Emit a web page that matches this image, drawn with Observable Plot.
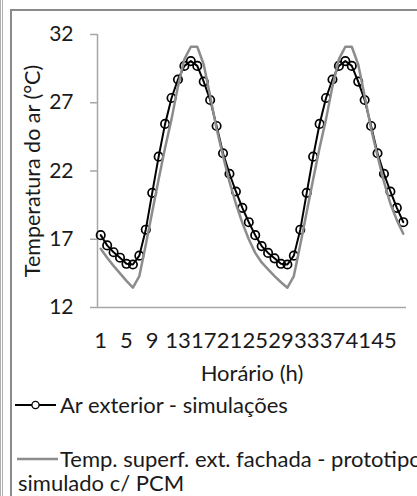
<!DOCTYPE html>
<html>
<head>
<meta charset="utf-8">
<script src="https://cdn.jsdelivr.net/npm/d3@7"></script>
<script src="https://cdn.jsdelivr.net/npm/@observablehq/plot@0.6"></script>
<style>
  html, body { margin: 0; padding: 0; background: #fff; }
  #wrap { position: relative; width: 417px; height: 496px; overflow: hidden; font-family: Lato, "Open Sans", sans-serif; color: #1a1a1a; }
  .bline { position: absolute; background: #8a8a8a; }
  #chart { position: absolute; left: 0; top: 0; }
  .leg { position: absolute; white-space: nowrap; font-size: 22px; line-height: 1; }
  .leg svg { position: absolute; overflow: visible; }
</style>
</head>
<body>
<div id="wrap">
  <div class="bline" style="left:0;top:0;width:1px;height:496px;background:#b0b0b0"></div>
  <div class="bline" style="left:2px;top:0;width:1px;height:496px;background:#b0b0b0"></div>
  <div class="bline" style="left:10px;top:9px;width:2px;height:487px"></div>
  <div class="bline" style="left:10px;top:9px;width:407px;height:2px"></div>
  <div id="chart"></div>
  <div id="legend"></div>
</div>
<script>
const hours = [1,2,3,4,5,6,7,8,9,10,11,12,13,14,15,16,17,18,19,20,21,22,23,24,
               25,26,27,28,29,30,31,32,33,34,35,36,37,38,39,40,41,42,43,44,45,46,47,48];
const arExterior = [17.3,16.55,16.05,15.65,15.2,15.15,15.8,17.7,20.4,23.05,25.45,27.35,28.7,29.7,30.05,29.7,28.55,27.2,25.3,23.3,21.8,20.5,19.3,18.25,
                    17.3,16.5,16.0,15.6,15.2,15.15,15.8,17.7,20.4,23.05,25.45,27.35,28.7,29.7,30.05,29.7,28.55,27.2,25.3,23.3,21.8,20.5,19.3,18.25];
const superfPCM = [16.3,15.65,15.05,14.5,13.95,13.45,14.3,16.6,19.0,21.4,23.7,25.8,28.2,30.2,31.1,31.1,29.8,27.5,25.1,23.1,21.2,19.6,18.2,17.0,
                   16.0,15.3,14.8,14.3,13.85,13.45,14.3,16.6,19.0,21.4,23.7,25.8,28.2,30.2,31.1,31.1,29.8,27.5,25.1,23.1,21.2,19.6,18.4,17.4];
const xTicks = [1,5,9,13,17,21,25,29,33,37,41,45];
const yTicks = [12,17,22,27,32];
const yTitle = "Temperatura do ar (°C)";
const xTitle = "Horário (h)";
const seriesNames = ["Ar exterior - simulações", "Temp. superf. ext. fachada - prototipo", "simulado c/ PCM"];

const rows = hours.map((h, i) => ({h, ar: arExterior[i], pcm: superfPCM[i]}));
const axisColor = "#a6a6a6";
const textColor = "#1a1a1a";

const chart = Plot.plot({
  width: 417,
  height: 390,
  marginLeft: 97,
  marginRight: 11,
  marginTop: 34,
  marginBottom: 83,
  style: {fontFamily: "Lato, 'Open Sans', sans-serif", fontSize: "21px", color: textColor, background: "transparent", overflow: "visible"},
  x: {domain: [0.5, 48.5]},
  y: {domain: [12, 32]},
  marks: [
    Plot.ruleY([12], {stroke: axisColor, strokeWidth: 1.5}),
    Plot.ruleX([0.5], {y1: 12, y2: 32, stroke: axisColor, strokeWidth: 1.5}),
    Plot.axisY(yTicks, {anchor: "left", tickSize: 7, tickPadding: 17, stroke: axisColor, strokeWidth: 1.5, label: null, fontSize: 21, fill: textColor}),
    Plot.axisX(xTicks, {anchor: "bottom", tickSize: 0, tickPadding: 25, label: null, fontSize: 22, fill: textColor}),
    Plot.line(rows, {x: "h", y: "ar", stroke: "#000", strokeWidth: 2}),
    Plot.dot(rows, {x: "h", y: "ar", r: 4.2, stroke: "#000", strokeWidth: 1.7, fill: "none"}),
    Plot.line(rows, {x: "h", y: "pcm", stroke: "#8c8c8c", strokeWidth: 2.5}),
    Plot.text([yTitle], {frameAnchor: "left", text: d => d, rotate: -90, dx: -64, fontSize: 21.5, fill: textColor, textAnchor: "middle", lineAnchor: "middle"}),
    Plot.text([xTitle], {frameAnchor: "bottom", text: d => d, dy: 66, fontSize: 22, fill: textColor, textAnchor: "middle", lineAnchor: "middle"})
  ]
});
document.getElementById("chart").appendChild(chart);

const legend = document.getElementById("legend");
legend.innerHTML = `
  <svg style="left:0;top:0" width="417" height="496">
    <line x1="15" x2="56" y1="405" y2="405" stroke="#000" stroke-width="2.2"></line>
    <circle cx="35.5" cy="405" r="3.6" fill="#fff" stroke="#000" stroke-width="1.3"></circle>
    <line x1="17" x2="58" y1="459" y2="459" stroke="#8c8c8c" stroke-width="2.5"></line>
  </svg>
  <div class="leg" style="left:60px;top:448px">${seriesNames[1]}</div>
  <div class="leg" style="left:60px;top:394px">${seriesNames[0]}</div>
  <div class="leg" style="left:18px;top:472px">${seriesNames[2]}</div>
`;
</script>
</body>
</html>
